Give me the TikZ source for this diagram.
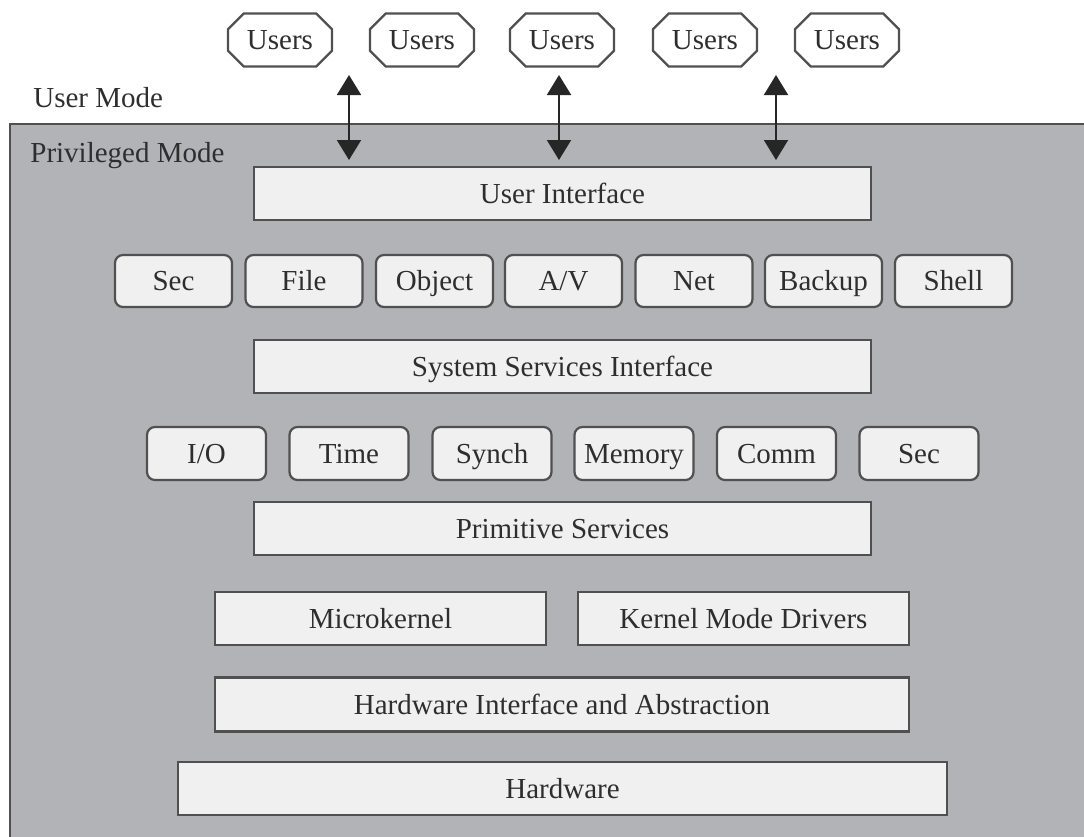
\documentclass[tikz,border=0pt]{standalone}
\usepackage{fontspec}
\setmainfont{Liberation Serif}
\usepackage{tikz}
\usetikzlibrary{arrows.meta,shapes.misc}
\definecolor{modeGray}{HTML}{B2B3B7}
\definecolor{boxFill}{HTML}{F0F0F0}
\definecolor{boxLine}{HTML}{505050}
\definecolor{inkDark}{HTML}{2E2E2E}

\begin{document}
\begin{tikzpicture}[x=0.5pt,y=-0.5pt]
    \tikzset{
      layer/.style={draw=boxLine, fill=boxFill, line width=1.1pt, inner sep=0pt,
        text height=9.6pt, text depth=0pt,
        minimum height=26.5pt, font=\fontsize{14.5}{17}\selectfont, text=inkDark},
      svc/.style={layer, rounded corners=4pt, minimum width=58.5pt, minimum height=26pt},
      users/.style={layer, fill=white, chamfered rectangle, chamfered rectangle xsep=8pt,
        minimum width=52pt, minimum height=26.5pt},
      modetext/.style={font=\fontsize{14.5}{17}\selectfont, text=inkDark, anchor=west, inner sep=0pt},
      link/.style={line width=1pt, black!85,
        {Triangle[width=12pt,length=10pt]}-{Triangle[width=12pt,length=10pt]}}
    }
    \useasboundingbox (0,0) rectangle (1084,837);

    % Privileged region
    \fill[modeGray] (10,124) rectangle (1084,837);
    \draw[boxLine, line width=0.8pt] (10,837) -- (10,124) -- (1084,124);
    \node[modetext] (umode) at (33,98) {User Mode};
    \node[modetext] (pmode) at (30,156) {Privileged Mode};

    % Users
    \foreach \x/\nm in {280/u1,422/u2,562/u3,705/u4,847/u5} {
      \node[users] (\nm) at (\x,40) {Users};
    }

    % Layers
    \node[layer, minimum width=308.5pt] (ui) at (562.5,193.5) {User Interface};
    \foreach \x/\lab/\nm in {173.5/Sec/s1,304/File/s2,434.5/Object/s3,563.5/A\slash V/s4,
        694/Net/s5,823.5/Backup/s6,953.5/Shell/s7} {
      \node[svc] (\nm) at (\x,281) {\lab};
    }
    \node[layer, minimum width=308.5pt] (ssi) at (562.5,366.5) {System Services Interface};
    \foreach \x/\lab/\nm in {206.5/I\slash O/p1,349/Time/p2,492/Synch/p3,634/Memory/p4,
        776.5/Comm/p5,919/Sec/p6} {
      \node[svc, minimum width=59.5pt, minimum height=26.5pt] (\nm) at (\x,453.5) {\lab};
    }
    \node[layer, minimum width=308.5pt] (ps) at (562.5,528.5) {Primitive Services};
    \node[layer, minimum width=165.5pt] (mk) at (380.5,618.5) {Microkernel};
    \node[layer, minimum width=165.5pt] (kmd) at (743.5,618.5) {Kernel Mode Drivers};
    \node[layer, minimum width=347pt, minimum height=27pt] (hia) at (562,704.5) {Hardware Interface and Abstraction};
    \node[layer, minimum width=384.5pt] (hw) at (562.5,788.5) {Hardware};

    % Arrows between user and privileged mode
    \foreach \x/\nm in {349/a1,559/a2,776/a3} {
      \coordinate (\nm t) at (\x,75);
      \coordinate (\nm b) at (\x,160);
      \draw[link] (\nm t) -- (\nm b);
    }
\end{tikzpicture}
\end{document}
